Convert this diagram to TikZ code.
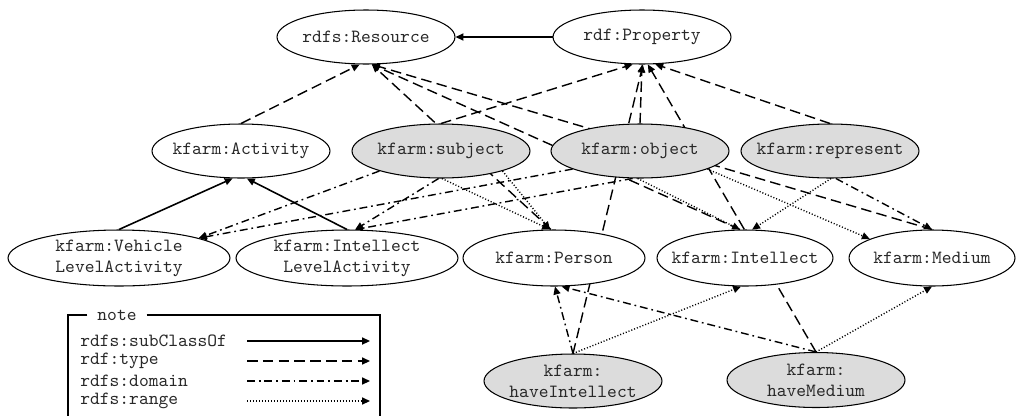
\documentclass[tikz,border=0pt]{standalone}
\usetikzlibrary{arrows.meta,shapes.geometric,backgrounds}
\definecolor{propgray}{RGB}{220,220,220}
\definecolor{txtgray}{RGB}{40,40,40}
\newcommand{\nt}[1]{\makebox[0pt]{#1}}

\begin{document}
\begin{tikzpicture}[x=0.02cm,y=-0.02cm
  ,>={Triangle[length=4.5pt,width=4pt]}
  ,font=\ttfamily\fontsize{10.6pt}{11.9pt}\selectfont
  ,text=txtgray
  ,inner sep=0pt]
  \tikzstyle{cls}=[ellipse,draw,line width=0.6pt,fill=white
    ,minimum width=3.56cm,minimum height=1.08cm,align=center]
  \tikzstyle{prp}=[cls,fill=propgray]
  \tikzstyle{subof}=[->,line width=0.9pt]
  \tikzstyle{typeof}=[->,line width=0.8pt,dash pattern=on 6pt off 3pt]
  \tikzstyle{domof}=[->,line width=0.8pt,dash pattern=on 4.5pt off 2.2pt on 1pt off 2.2pt]
  \tikzstyle{rngof}=[->,line width=0.8pt,dash pattern=on 0.6pt off 1.1pt]

  \useasboundingbox (0,0) rectangle (1016,416);

  \node[cls] (res)  at (366,37)  {\nt{rdfs:Resource}};
  \node[cls] (prop) at (642,37)  {\nt{rdf:Property}};
  \node[cls] (act)  at (241,151) {\nt{kfarm:Activity}};
  \node[prp] (subj) at (441,151) {\nt{kfarm:subject}};
  \node[prp] (obj)  at (640,151) {\nt{kfarm:object}};
  \node[prp] (rep)  at (830,151) {\nt{kfarm:represent}};
  \node[cls,minimum width=4.44cm,minimum height=1.12cm] (vla) at (119,258)
    {\nt{kfarm:Vehicle}\\\nt{LevelActivity}};
  \node[cls,minimum width=4.44cm,minimum height=1.12cm] (ila) at (347,258)
    {\nt{kfarm:Intellect}\\\nt{LevelActivity}};
  \node[cls,minimum width=3.64cm,minimum height=1.12cm] (pers) at (554,258) {\nt{kfarm:Person}};
  \node[cls,minimum width=3.52cm,minimum height=1.12cm] (intl) at (745,258) {\nt{kfarm:Intellect}};
  \node[cls,minimum width=3.32cm,minimum height=1.12cm] (med)  at (932,258) {\nt{kfarm:Medium}};
  \node[prp] (hint) at (573,381) {\nt{kfarm:}\\\nt{haveIntellect}};
  \node[prp,minimum height=1.1cm] (hmed) at (816,380) {\nt{kfarm:}\\\nt{haveMedium}};

  \begin{scope}[on background layer]
  \path[subof]
  (prop.west) edge (res.east)
  (vla.north) edge (act.253)
  (ila.north) edge (act.282)
  ;
  \path[typeof]
  (act.north)  edge (res.257)
  (pers.96)    edge (res.282)
  (intl.100)   edge (res.282)
  (med.north)  edge (res.282)
  (subj.north) edge (prop.251)
  (obj.north)  edge (prop.south)
  (rep.north)  edge (prop.296)
  (hint.north) edge (prop.272)
  (hmed.north) edge (prop.282)
  ;
  \path[domof]
  (subj.198)   edge (vla.14)
  (subj.265)   edge (ila.74)
  (obj.195)    edge (vla.14)
  (obj.255)    edge (ila.74)
  (rep.282)    edge (med.north)
  (hint.north) edge (pers.272)
  (hmed.north) edge (pers.285)
  ;
  \path[rngof]
  (subj.342)   edge (pers.98)
  (subj.272)   edge (pers.98)
  (obj.265)    edge (intl.100)
  (obj.345)    edge (med.163)
  (rep.272)    edge (intl.76)
  (hint.north) edge (intl.262)
  (hmed.north) edge (med.south)
  ;
  \end{scope}

  % note
  \node[inner xsep=5.5pt] (note) at (117,315) {note};
  \draw[line width=0.6pt] (note.west) -| (68,416);
  \draw[line width=0.6pt] (note.east) -| (380,416);
  \node[anchor=west] (lsub) at (80,341) {rdfs:subClassOf};
  \node[anchor=west] (ltyp) at (80,361) {rdf:type};
  \node[anchor=west] (ldom) at (80,381) {rdfs:domain};
  \node[anchor=west] (lrng) at (80,401) {rdfs:range};
  \coordinate (la) at (247,0);
  \coordinate (lb) at (370,0);
  \draw[subof]  (lsub -| la) -- (lsub -| lb);
  \draw[typeof] (ltyp -| la) -- (ltyp -| lb);
  \draw[domof]  (ldom -| la) -- (ldom -| lb);
  \draw[rngof]  (lrng -| la) -- (lrng -| lb);

\end{tikzpicture}
\end{document}
